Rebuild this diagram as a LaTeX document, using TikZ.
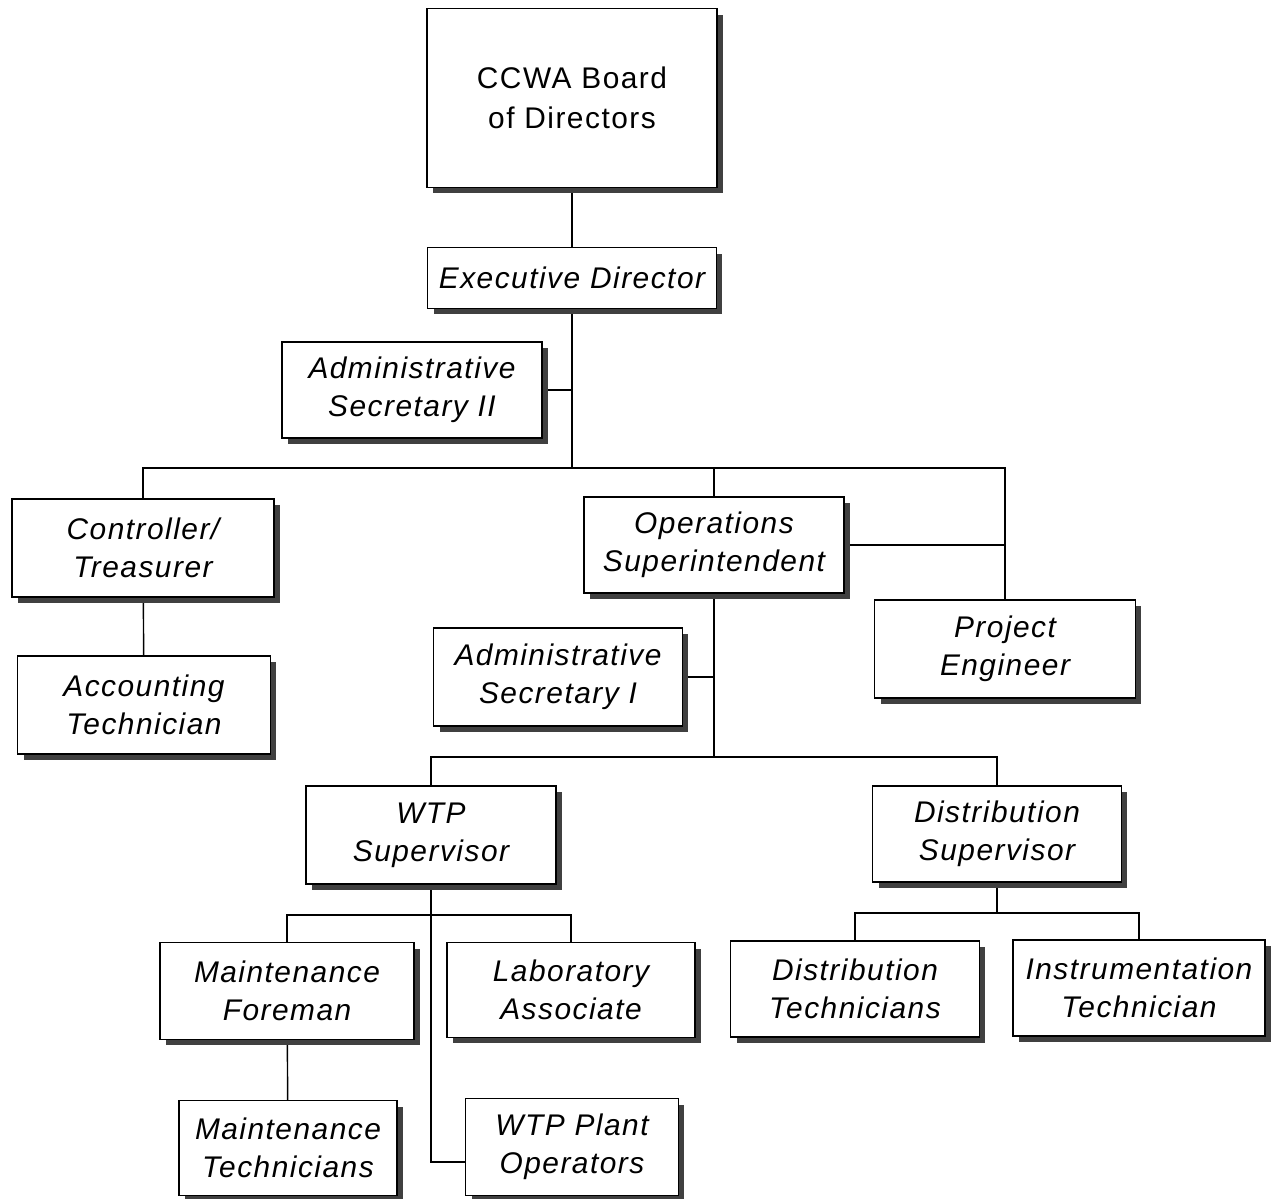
\documentclass[tikz,border=0pt]{standalone}
\usepackage{fontspec}
\setmainfont[LetterSpace=5]{Liberation Sans}
\usetikzlibrary{shadows,backgrounds}
\tikzset{%
  post/.style  = {shape=rectangle, draw, fill=white, line width=0.8pt,%
                  align=center, inner sep=2pt,%
                  font=\fontsize{17}{21.5}\selectfont\itshape,%
                  drop shadow={shadow xshift=0.12cm, shadow yshift=-0.12cm,%
                               fill=black!75, opacity=1}},%
  board/.style = {post, font=\fontsize{17}{22.8}\selectfont},%
  link/.style  = {draw, line width=0.8pt}%
}
\begin{document}
\begin{tikzpicture}[x=0.02cm, y=-0.02cm]
  \useasboundingbox (0,0) rectangle (1272,1199);
  % top of the chart
  \node[board, minimum width=5.8cm, minimum height=3.58cm] (ccwa) at (572,98) {CCWA Board\\of Directors};
  \node[post, minimum width=5.78cm, minimum height=1.22cm] (exec) at (572,278) {Executive Director};
  \node[post, minimum width=5.2cm, minimum height=1.92cm] (as2) at (412,390) {Administrative\\Secretary II};
  % second row
  \node[post, minimum width=5.24cm, minimum height=1.96cm] (ctrl) at (143,548) {Controller/\\Treasurer};
  \node[post, minimum width=5.2cm, minimum height=1.92cm] (ops) at (714,545) {Operations\\Superintendent};
  \node[post, minimum width=5.22cm, minimum height=1.96cm] (proj) at (1005,649) {Project\\Engineer};
  \node[post, minimum width=5.06cm, minimum height=1.96cm] (acct) at (144,705) {Accounting\\Technician};
  \node[post, minimum width=4.98cm, minimum height=1.96cm] (as1) at (558,677) {Administrative\\Secretary I};
  % supervisors
  \node[post, minimum width=5.0cm, minimum height=1.96cm] (wtp) at (431,835) {WTP\\Supervisor};
  \node[post, minimum width=4.98cm, minimum height=1.92cm] (dist) at (997,834) {Distribution\\Supervisor};
  % bottom rows
  \node[post, minimum width=5.08cm, minimum height=1.94cm] (mfor) at (287,991) {Maintenance\\Foreman};
  \node[post, minimum width=4.96cm, minimum height=1.9cm] (lab) at (571,990) {Laboratory\\Associate};
  \node[post, minimum width=4.36cm, minimum height=1.9cm] (mtech) at (288,1148) {Maintenance\\Technicians};
  \node[post, minimum width=4.26cm, minimum height=1.94cm] (plant) at (572,1147) {WTP Plant\\Operators};
  \node[post, minimum width=4.98cm, minimum height=1.92cm] (dtech) at (855,989) {Distribution\\Technicians};
  \node[post, minimum width=5.04cm, minimum height=1.92cm] (itech) at (1139,988) {Instrumentation\\Technician};
  % bus points
  \coordinate (busA) at (572,468);
  \coordinate (busB) at (714,757);
  \coordinate (busW) at (431,915);
  \coordinate (busD) at (997,913);
  \begin{scope}[on background layer]
    \draw[link] (ccwa) -- (exec);
    \draw[link] (exec) -- (busA);
    \draw[link] (as2.east) -- (as2.east -| exec.south);
    \draw[link] (ctrl.north) |- (busA) -| (proj.north);
    \draw[link] (busA -| ops.north) -- (ops.north);
    \draw[link] (ops.east) -- (ops.east -| proj.north);
    \draw[link] (ctrl) -- (acct);
    \draw[link] (ops.south) -- (busB);
    \draw[link] (as1.east) -- (as1.east -| ops.south);
    \draw[link] (wtp.north) |- (busB) -| (dist.north);
    \draw[link] (mfor.north) |- (busW) -| (lab.north);
    \draw[link] (wtp.south) |- ([yshift=-0.3cm]plant.west);
    \draw[link] (mfor) -- (mtech);
    \draw[link] (dtech.north) |- (busD) -| (itech.north);
    \draw[link] (dist.south) -- (busD);
  \end{scope}
\end{tikzpicture}
\end{document}
